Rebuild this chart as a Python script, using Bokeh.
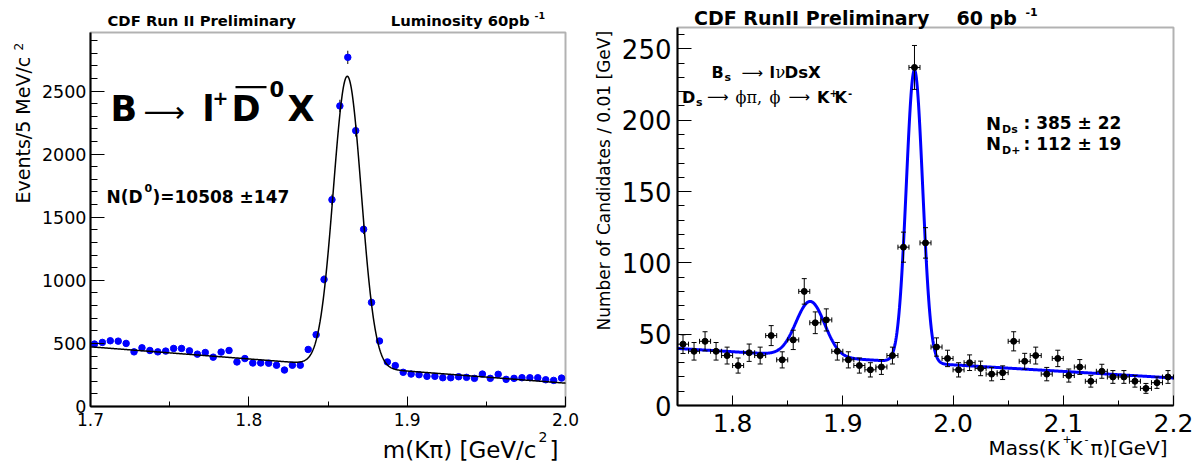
import math
import numpy as np
from bokeh.plotting import figure
from bokeh.layouts import row
from bokeh.models import (Label, BoxAnnotation, SingleIntervalTicker,
                          PrintfTickFormatter, LinearAxis)
from bokeh.embed import file_html
from bokeh.resources import INLINE

# ---------------- data: left panel (B -> l+ D0bar X, D0 -> K pi) ----------------
left_bin_lo = 1.7
left_bin_w = 0.005
left_counts = [495, 508, 521, 518, 500, 433, 465, 444, 433, 439,
               460, 460, 441, 415, 428, 391, 431, 444, 353, 380,
               345, 345, 343, 327, 289, 327, 327, 452, 569, 1007,
               1639, 2382, 2767, 2186, 1404, 825, 519, 353, 324, 271,
               257, 252, 239, 239, 228, 228, 236, 231, 223, 257,
               223, 255, 215, 223, 228, 228, 228, 212, 207, 225]
left_mass = [round(left_bin_lo + left_bin_w * (i + 0.5), 4) for i in range(len(left_counts))]
# fit: linear background + gaussian
left_fit_bg0 = 473.0       # background at 1.70
left_fit_slope = -960.0    # per GeV
left_fit_mean = 1.8622
left_fit_sigma = 0.0088
left_fit_amp = 2300.0

# ---------------- data: right panel (Bs -> l nu Ds X, Ds -> phi pi) ----------------
right_bin_lo = 1.75
right_bin_w = 0.01
right_counts = [43, 38, 45, 38, 35, 28, 37, 35, 49, 32,
                46, 80, 58, 60, 38, 32, 28, 25, 27, 35,
                111, 237, 114, 41, 33, 25, 30, 26, 22, 23,
                45, 31, 35, 22, 33, 21, 27, 17, 24, 20,
                20, 17, 12, 16, 20]
right_mass = [round(right_bin_lo + right_bin_w * (i + 0.5), 4) for i in range(len(right_counts))]
right_fit_bg0 = 40.0
right_fit_slope = -46.0
right_dp_mean, right_dp_sigma, right_dp_amp = 1.8705, 0.013, 38.5
right_ds_mean, right_ds_sigma, right_ds_amp = 1.9650, 0.0074, 205.0

SANS = "DejaVu Sans"
SERIF = "DejaVu Serif"
BASE_SHIFT = 0.32   # em; compensates where the renderer puts the alphabetic baseline


class Panel:
    """A figure whose frame fills the whole canvas; the ROOT-like plot box
    sits inside it at (left, top, right, bottom) pixels."""

    def __init__(self, offset, W, H, box, xr, yr):
        self.offset = offset
        l, t, r, b = box
        self.l, self.t, self.r, self.b = l, t, r, b
        self.xr, self.yr = xr, yr
        kx = (r - l) / (xr[1] - xr[0])
        ky = (b - t) / (yr[1] - yr[0])
        self.kx, self.ky = kx, ky
        x_start = xr[0] - l / kx
        x_end = xr[1] + (W - r) / kx
        y_start = yr[0] - (H - b) / ky
        y_end = yr[1] + t / ky
        p = figure(x_range=(x_start, x_end), y_range=(y_start, y_end),
                   frame_width=W, frame_height=H,
                   min_border=0, min_border_left=0, min_border_right=0,
                   min_border_top=0, min_border_bottom=0,
                   x_axis_location=None, y_axis_location=None,
                   output_backend="svg", toolbar_location=None)
        p.grid.visible = False
        p.outline_line_color = None
        p.background_fill_color = "white"
        p.border_fill_color = "white"
        self.p = p

    def axes(self, xint, xminor, xfs, xstand, yint, yminor, yfs, ystand):
        p = self.p
        xa = LinearAxis(fixed_location=self.yr[0], bounds=self.xr,
                        ticker=SingleIntervalTicker(interval=xint, num_minor_ticks=xminor),
                        formatter=PrintfTickFormatter(format="%.1f"))
        ya = LinearAxis(fixed_location=self.xr[0], bounds=self.yr,
                        ticker=SingleIntervalTicker(interval=yint, num_minor_ticks=yminor))
        for ax in (xa, ya):
            ax.axis_line_width = 2
            ax.axis_line_color = "black"
            ax.major_tick_line_color = "black"
            ax.minor_tick_line_color = "black"
            ax.major_tick_out = 0
            ax.minor_tick_out = 0
            ax.major_label_text_font = SANS
            ax.major_label_text_color = "black"
        xa.major_tick_in, xa.minor_tick_in = 10, 5
        ya.major_tick_in, ya.minor_tick_in = 14, 7
        xa.major_label_text_font_size = xfs
        ya.major_label_text_font_size = yfs
        xa.major_label_standoff = xstand
        ya.major_label_standoff = ystand
        p.add_layout(xa, "below")
        p.add_layout(ya, "left")
        p.add_layout(BoxAnnotation(left=self.xr[0], right=self.xr[1],
                                   bottom=self.yr[0], top=self.yr[1],
                                   fill_alpha=0, line_color="black", line_width=2))

    def dx(self, px):
        return self.xr[0] + (px - self.offset - self.l) / self.kx

    def dy(self, py):
        return self.yr[0] + (self.b - py) / self.ky

    def put(self, px, py, text, size, bold=False, font=SANS, align="left",
            angle=0.0, baseline="alphabetic"):
        if baseline == "alphabetic":
            d = BASE_SHIFT * size
            px -= d * math.sin(angle)
            py -= d * math.cos(angle)
        self.p.add_layout(Label(x=self.dx(px), y=self.dy(py), text=text,
                                text_font=font, text_font_size=f"{size}px",
                                text_font_style="bold" if bold else "normal",
                                text_align=align, text_baseline=baseline,
                                angle=angle, text_color="black"))


# ================= LEFT PANEL =================
L_XR = (1.7, 2.0)
L_YR = (0, 2964)
A = Panel(0, 585, 465, (90, 32, 565, 406), L_XR, L_YR)
p1 = A.p

lx = np.linspace(L_XR[0], L_XR[1], 901)
ly = (left_fit_bg0 + left_fit_slope * (lx - L_XR[0])
      + left_fit_amp * np.exp(-0.5 * ((lx - left_fit_mean) / left_fit_sigma) ** 2))
lc = np.array(left_counts, dtype=float)
le = np.sqrt(lc)
p1.segment(x0=left_mass, y0=lc - le, x1=left_mass, y1=lc + le, line_color="black", line_width=1)
p1.scatter(left_mass, left_counts, size=6.5, fill_color="#0000ff", line_color="#0000ff")
p1.line(lx, ly, line_color="black", line_width=1.5)
A.axes(0.1, 2, "17px", 6, 500, 5, "17.5px", 4)

A.put(107, 25, "CDF Run II Preliminary", 14.8, bold=True)
A.put(529, 25, "Luminosity 60pb", 14.8, bold=True, align="right")
A.put(534, 18.5, "-1", 9.5, bold=True)
# B -> l+ D0bar X
A.put(110, 120, "B", 35, bold=True)
A.put(143, 111.7, "\u27f6", 29, baseline="middle")
A.put(202, 120, "l", 35, bold=True)
A.put(212, 97.5, "+", 19, bold=True, baseline="middle")
A.put(231, 120, "D", 35, bold=True)
p1.add_layout(BoxAnnotation(left=A.dx(235), right=A.dx(266), top=A.dy(85.5), bottom=A.dy(87.8),
                            fill_color="black", fill_alpha=1.0, line_alpha=0))
A.put(269, 95, "0", 21, bold=True)
A.put(287, 120, "X", 35, bold=True)
# N(D0)
A.put(106, 201.7, "N(D", 17, bold=True)
A.put(144, 191, "0", 11, bold=True)
A.put(152, 201.7, ")=10508 \u00b1147", 17, bold=True)
# axis titles
A.put(29, 203, "Events/5 MeV/c", 19, angle=math.pi / 2)
A.put(21.5, 50, "2", 12, angle=math.pi / 2)
A.put(536, 456.7, "m(K\u03c0) [GeV/c", 23, align="right")
A.put(538, 441, "2", 14)
A.put(549, 456.7, "]", 23)

# ================= RIGHT PANEL =================
R_XR = (1.75, 2.2)
R_YR = (0, 265)
B = Panel(585, 619, 465, (92, 27, 588, 405), R_XR, R_YR)
p2 = B.p

rx = np.linspace(R_XR[0], R_XR[1], 1201)
ry = (right_fit_bg0 + right_fit_slope * (rx - R_XR[0])
      + right_dp_amp * np.exp(-0.5 * ((rx - right_dp_mean) / right_dp_sigma) ** 2)
      + right_ds_amp * np.exp(-0.5 * ((rx - right_ds_mean) / right_ds_sigma) ** 2))
p2.line(rx, ry, line_color="#0000ff", line_width=3)

rc = np.array(right_counts, dtype=float)
re_ = np.sqrt(rc)
rm = np.array(right_mass)
hw = right_bin_w / 2
p2.segment(x0=rm, y0=rc - re_, x1=rm, y1=rc + re_, line_color="black", line_width=1)
p2.segment(x0=rm - hw, y0=rc, x1=rm + hw, y1=rc, line_color="black", line_width=1)
p2.scatter(rm, rc + re_, marker="dash", size=5, line_color="black", line_width=1)
p2.scatter(rm, rc - re_, marker="dash", size=5, line_color="black", line_width=1)
p2.scatter(rm - hw, rc, marker="dash", size=5, angle=math.pi / 2, line_color="black", line_width=1)
p2.scatter(rm + hw, rc, marker="dash", size=5, angle=math.pi / 2, line_color="black", line_width=1)
p2.scatter(rm, rc, size=6, fill_color="black", line_color="black")
B.axes(0.1, 2, "25px", 8, 50, 5, "26px", 6)

B.put(693.5, 23.3, "CDF RunII Preliminary", 19, bold=True)
B.put(956, 23.3, "60 pb", 19, bold=True)
B.put(1025, 15.5, "-1", 11, bold=True)
# Bs -> l nu Ds X
B.put(711, 77.3, "B", 16, bold=True)
B.put(724, 81, "s", 11, bold=True)
B.put(741, 72.3, "\u27f6", 15, baseline="middle")
B.put(769, 77.3, "l", 16, bold=True)
B.put(775, 77.3, "\u03bd", 16, font=SERIF)
B.put(784, 77.3, "DsX", 16.5, bold=True)
# Ds -> phi pi, phi -> K+K-
B.put(681.5, 101.7, "D", 16, bold=True)
B.put(695.5, 105.5, "s", 11, bold=True)
B.put(706.5, 96.7, "\u27f6", 15, baseline="middle")
B.put(735, 101.7, "\u03d5\u03c0,", 16, font=SERIF)
B.put(769, 101.7, "\u03d5", 16, font=SERIF)
B.put(788, 96.7, "\u27f6", 15, baseline="middle")
B.put(816.5, 101.7, "K", 16, bold=True)
B.put(829, 95.5, "+", 10, bold=True)
B.put(834, 101.7, "K", 16, bold=True)
B.put(847.5, 95.5, "-", 10, bold=True)
# yields
B.put(985.5, 128.3, "N", 18, bold=True)
B.put(1001.5, 133, "Ds", 11, bold=True)
B.put(1023, 128.3, ": 385 \u00b1 22", 17, bold=True)
B.put(985.5, 149, "N", 18, bold=True)
B.put(1001.5, 153.5, "D+", 11, bold=True)
B.put(1023, 149, ": 112 \u00b1 19", 17, bold=True)
# axis titles
B.put(609, 330, "Number of Candidates / 0.01 [GeV]", 17, angle=math.pi / 2)
B.put(988, 454, "Mass(K", 20)
B.put(1062, 442, "+", 11)
B.put(1069, 454, "K", 20)
B.put(1084, 442, "-", 11)
B.put(1090, 454, "\u03c0)[GeV]", 20)

layout = row(p1, p2)
open("out.html", "w").write(file_html(layout, INLINE))
